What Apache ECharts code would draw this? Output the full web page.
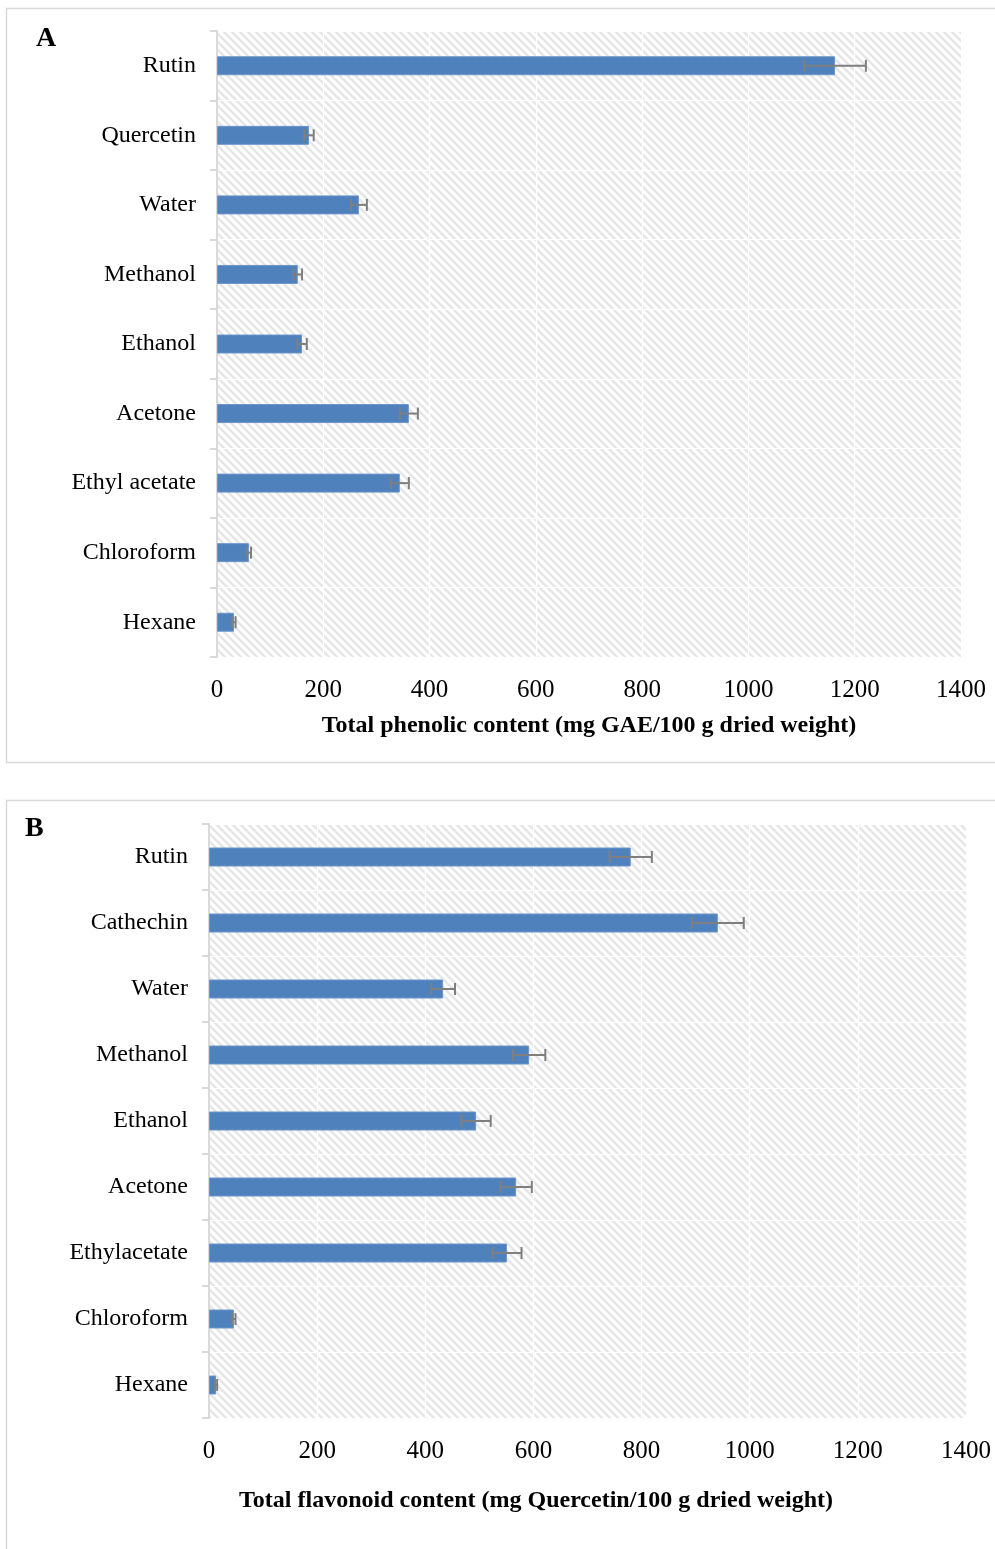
<!DOCTYPE html>
<html><head><meta charset="utf-8">
<script src="https://cdn.jsdelivr.net/npm/echarts@6/dist/echarts.min.js"></script>
<style>html,body{margin:0;padding:0;background:#fff}#c{width:995px;height:1549px}</style>
</head><body><div id="c"></div>
<script>
const catsA = ['Rutin','Quercetin','Water','Methanol','Ethanol','Acetone','Ethyl acetate','Chloroform','Hexane'];
const valsA = [1163, 173, 267, 152, 160, 361, 344, 60, 32];
const errA  = [58, 9, 15, 8, 9, 17, 17, 4, 3];
const catsB = ['Rutin','Cathechin','Water','Methanol','Ethanol','Acetone','Ethylacetate','Chloroform','Hexane'];
const valsB = [780, 941, 433, 592, 494, 568, 551, 46, 13];
const errB  = [39, 48, 22, 30, 27, 29, 27, 3, 2];
const xTicks = [0,200,400,600,800,1000,1200,1400];
const titleA = 'Total phenolic content (mg GAE/100 g dried weight)';
const titleB = 'Total flavonoid content (mg Quercetin/100 g dried weight)';

function hatch(){
  const p = 8, cv = document.createElement('canvas');
  cv.width = p; cv.height = p;
  const g = cv.getContext('2d');
  g.fillStyle = '#fff'; g.fillRect(0,0,p,p);
  g.strokeStyle = '#e6e6e6'; g.lineWidth = 2.6;
  g.beginPath();
  g.moveTo(-2,-2); g.lineTo(p+2,p+2);
  g.moveTo(-2,p-2); g.lineTo(2,p+2);
  g.moveTo(p-2,-2); g.lineTo(p+2,2);
  g.stroke();
  return {image: cv, repeat: 'repeat'};
}
const pat = hatch();
const serif = '"Liberation Serif","Times New Roman",serif';

function errSeries(vals, errs, idx){
  return {
    type: 'custom', xAxisIndex: idx, yAxisIndex: idx, z: 5,
    data: vals.map((v,i)=>[v, i, errs[i]]),
    encode: {x: 0, y: 1},
    renderItem: function(params, api){
      const v = api.value(0), i = api.value(1), e = api.value(2);
      const lo = api.coord([v - e, i]), hi = api.coord([v + e, i]);
      const y = lo[1], h = 6;
      const st = {stroke: '#7f7f7f', lineWidth: 2};
      return {type: 'group', children: [
        {type: 'line', shape: {x1: lo[0], y1: y, x2: hi[0], y2: y}, style: st},
        {type: 'line', shape: {x1: lo[0], y1: y-h, x2: lo[0], y2: y+h}, style: st},
        {type: 'line', shape: {x1: hi[0], y1: y-h, x2: hi[0], y2: y+h}, style: st}
      ]};
    }
  };
}
function xAx(idx){
  return {type: 'value', gridIndex: idx, min: 0, max: 1400, interval: 200,
    axisLine: {show: false}, axisTick: {show: false},
    splitLine: {show: true, lineStyle: {color: '#ffffff', width: 1.2}},
    axisLabel: {fontFamily: serif, fontSize: 25, color: '#000', margin: 21,
      formatter: v => xTicks.includes(v) ? String(v) : ''}};
}
function yAx(idx, cats){
  return {type: 'category', gridIndex: idx, data: cats, inverse: true,
    axisLine: {show: true, lineStyle: {color: '#d9d9d9', width: 2}},
    axisTick: {show: true, length: 7, lineStyle: {color: '#d9d9d9', width: 2}},
    splitLine: {show: true, lineStyle: {color: '#ffffff', width: 1.2}},
    axisLabel: {fontFamily: serif, fontSize: 24, color: '#000', margin: 21, lineHeight: 24, padding: [6,0,0,0]}};
}
const chart = echarts.init(document.getElementById('c'), null, {renderer: 'canvas'});
chart.setOption({
  animation: false,
  backgroundColor: '#fff',
  grid: [
    {left: 217, top: 31, width: 744, height: 626, show: true, backgroundColor: pat, borderWidth: 0},
    {left: 209, top: 824, width: 757, height: 594, show: true, backgroundColor: pat, borderWidth: 0}
  ],
  xAxis: [xAx(0), xAx(1)],
  yAxis: [yAx(0, catsA), yAx(1, catsB)],
  series: [
    {type: 'bar', xAxisIndex: 0, yAxisIndex: 0, data: valsA, barWidth: 19,
      itemStyle: {color: '#4f81bd', borderColor: '#6d96c9', borderWidth: 1}},
    errSeries(valsA, errA, 0),
    {type: 'bar', xAxisIndex: 1, yAxisIndex: 1, data: valsB, barWidth: 19,
      itemStyle: {color: '#4f81bd', borderColor: '#6d96c9', borderWidth: 1}},
    errSeries(valsB, errB, 1)
  ],
  graphic: [
    {type: 'rect', shape: {x: 6.5, y: 8.5, width: 1000, height: 754}, style: {fill: null, stroke: '#d9d9d9', lineWidth: 1.5}, z: -10, silent: true},
    {type: 'rect', shape: {x: 6.5, y: 800.5, width: 1000, height: 760}, style: {fill: null, stroke: '#d9d9d9', lineWidth: 1.5}, z: -10, silent: true},
    {type: 'text', left: 36, top: 25, style: {text: 'A', font: 'bold 28px ' + serif, fill: '#000'}},
    {type: 'text', left: 25, top: 815, style: {text: 'B', font: 'bold 28px ' + serif, fill: '#000'}},
    {type: 'text', x: 589, y: 726, style: {text: titleA, font: 'bold 24px ' + serif, fill: '#000', textAlign: 'center', textVerticalAlign: 'middle'}},
    {type: 'text', x: 536, y: 1501, style: {text: titleB, font: 'bold 24px ' + serif, fill: '#000', textAlign: 'center', textVerticalAlign: 'middle'}}
  ]
});
</script></body></html>
